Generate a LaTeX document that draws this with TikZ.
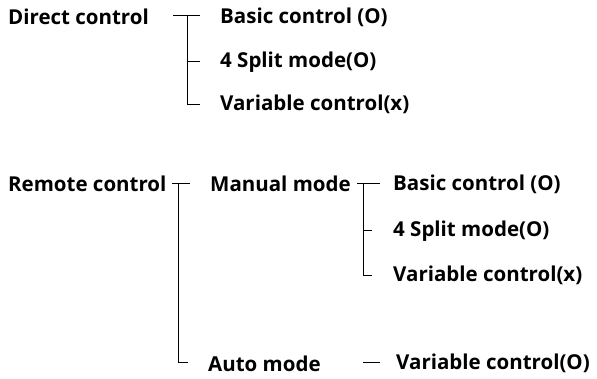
\documentclass[tikz,border=0pt]{standalone}
\usepackage{fontspec}
\setmainfont{Open Sans}
\begin{document}
\begin{tikzpicture}[x=1pt,y=-1pt,
  lbl/.style={anchor=west,inner sep=0pt,font=\fontsize{20.5}{22}\selectfont\bfseries},
  ln/.style={line width=1pt,black}]
\useasboundingbox (0,0) rectangle (597,378);
% Direct control
\node[lbl] (dc) at (8,17) {Direct control};
\node[lbl] (d1) at (220,17) {Basic control (O)};
\node[lbl] (d2) at (220,62) {4 Split mode(O)};
\node[lbl] (d3) at (220,104) {Variable control(x)};
\coordinate (da) at (173,15);
\coordinate (db) at (200,15);
\coordinate (dv) at (187,15);
\coordinate (dm) at (187,61);
\coordinate (dmx) at (200,61);
\coordinate (dbot) at (187,104);
\coordinate (dbx) at (200,104);
\draw[ln] (da) -- (db);
\draw[ln] (dv) -- (dbot) -- (dbx);
\draw[ln] (dm) -- (dmx);
% Remote control
\node[lbl] (rc) at (8,184) {Remote control};
\node[lbl] (mm) at (210,184) {Manual mode};
\node[lbl] (am) at (208,364) {Auto mode};
\coordinate (ra) at (172,183);
\coordinate (rb) at (190,183);
\coordinate (rv) at (178,183);
\coordinate (rbot) at (178,362);
\coordinate (rbx) at (188,362);
\draw[ln] (ra) -- (rb);
\draw[ln] (rv) -- (rbot) -- (rbx);
% Manual mode
\node[lbl] (m1) at (393,184) {Basic control (O)};
\node[lbl] (m2) at (393,231) {4 Split mode(O)};
\node[lbl] (m3) at (393,275) {Variable control(x)};
\coordinate (ma) at (357,183);
\coordinate (mb) at (380,183);
\coordinate (mv) at (363,183);
\coordinate (mm2) at (363,230);
\coordinate (mm2x) at (372,230);
\coordinate (mbot) at (363,275);
\coordinate (mbx) at (372,275);
\draw[ln] (ma) -- (mb);
\draw[ln] (mv) -- (mbot) -- (mbx);
\draw[ln] (mm2) -- (mm2x);
% Auto mode
\node[lbl] (a1) at (396,363) {Variable control(O)};
\coordinate (aa) at (363,362);
\coordinate (ab) at (380,362);
\draw[ln] (aa) -- (ab);
\end{tikzpicture}
\end{document}
